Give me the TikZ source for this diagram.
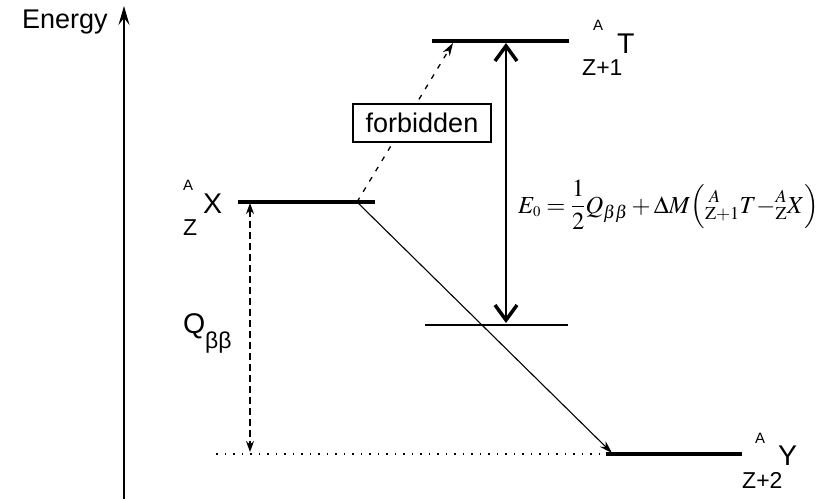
\documentclass[tikz,border=0pt]{standalone}
\usepackage{mathptmx}
\usepackage{fontspec}
\newfontfamily\labfont{Liberation Sans}
\usetikzlibrary{arrows.meta}
\tikzset{
  level/.style={line width=3.5pt},
  thinlevel/.style={line width=1.4pt},
  lab/.style={font=\labfont\fontsize{28.5}{28}\selectfont, inner sep=0pt},
  suplab/.style={font=\labfont\fontsize{15}{15}\selectfont, inner sep=0pt},
  sublab/.style={font=\labfont\fontsize{23}{23}\selectfont, inner sep=0pt},
  smallhead/.style={-{Stealth[length=13pt,width=8pt]}},
  e0arrow/.style={{Straight Barb[length=15pt,width=22pt,line width=3.5pt]}-{Straight Barb[length=15pt,width=22pt,line width=3.5pt]}},
}
\begin{document}
\begin{tikzpicture}[x=1pt,y=-1pt]
\useasboundingbox (0,0) rectangle (831,499);
% axis
\coordinate (axb) at (124,499);
\coordinate (axt) at (124,6);
\draw[line width=2pt, -{Stealth[length=19pt,width=11pt,inset=7pt]}] (axb) -- (axt);
\node[lab, anchor=base west, font=\labfont\fontsize{27}{27}\selectfont] (energy) at (22,28) {Energy};
% levels
\coordinate (Tl) at (432,41); \coordinate (Tr) at (569,41);
\coordinate (Xl) at (238,202); \coordinate (Xr) at (375,202);
\coordinate (Ml) at (425,325); \coordinate (Mr) at (568,325);
\coordinate (Yl) at (606,454); \coordinate (Yr) at (742,454);
\coordinate (dl) at (216,454);
\draw[line width=1.4pt, dash pattern=on 1.5pt off 7pt] (dl) -- (Yl);
\draw[level] (Tl) -- (Tr);
\draw[level] (Xl) -- (Xr);
\draw[thinlevel] (Ml) -- (Mr);
\draw[level] (Yl) -- (Yr);
% transitions
\coordinate (start) at (357,202);
\coordinate (ftip) at (453,43);
\coordinate (dtip) at (612,453);
\draw[line width=1.3pt, dash pattern=on 5pt off 7pt, smallhead] (start) -- (ftip);
\draw[line width=1.1pt, smallhead] (start) -- (dtip);
\node[draw, line width=1.2pt, fill=white, minimum width=138pt, minimum height=38pt, inner sep=0pt,
      font=\labfont\fontsize{27}{27}\selectfont] (forb) at (422,123) {forbidden};
% Q arrow
\coordinate (qt) at (250,203);
\coordinate (qb) at (250,452);
\draw[line width=1.5pt, dash pattern=on 7pt off 4pt,
      {Stealth[length=11pt,width=8pt]}-{Stealth[length=11pt,width=8pt]}] (qt) -- (qb);
% E0 arrow
\coordinate (et) at (506,43);
\coordinate (eb) at (506,323);
\draw[line width=1.8pt, e0arrow] (eb) -- (et);
% labels
\node[suplab, anchor=base west] (xa) at (183,190) {A};
\node[lab, anchor=base west] (xx) at (203,213) {X};
\node[sublab, anchor=base west] (xz) at (183,235) {Z};
\node[suplab, anchor=base west] (ta) at (593,30) {A};
\node[lab, anchor=base west] (tt) at (617,53) {T};
\node[sublab, anchor=base west] (tz) at (582,75) {Z+1};
\node[suplab, anchor=base west] (ya) at (755,443) {A};
\node[lab, anchor=base west] (yy) at (778,465) {Y};
\node[sublab, anchor=base west] (yz) at (742,488) {Z+2};
\node[lab, anchor=base west] (q) at (183,333) {Q};
\node[sublab, anchor=base west] (bb) at (205,348) {ββ};
% formula
\node[anchor=west, inner sep=0pt, font=\fontsize{24.5}{30}\selectfont] (eq) at (518,205)
  {$\displaystyle E_{\scriptscriptstyle 0} = \frac{1}{2}Q_{\beta\beta} + \Delta M\Bigl({}^{\;A}_{\mathrm{Z}+1}T{-}{}^{A}_{\mathrm{Z}}X\Bigr)$};
\end{tikzpicture}
\end{document}
